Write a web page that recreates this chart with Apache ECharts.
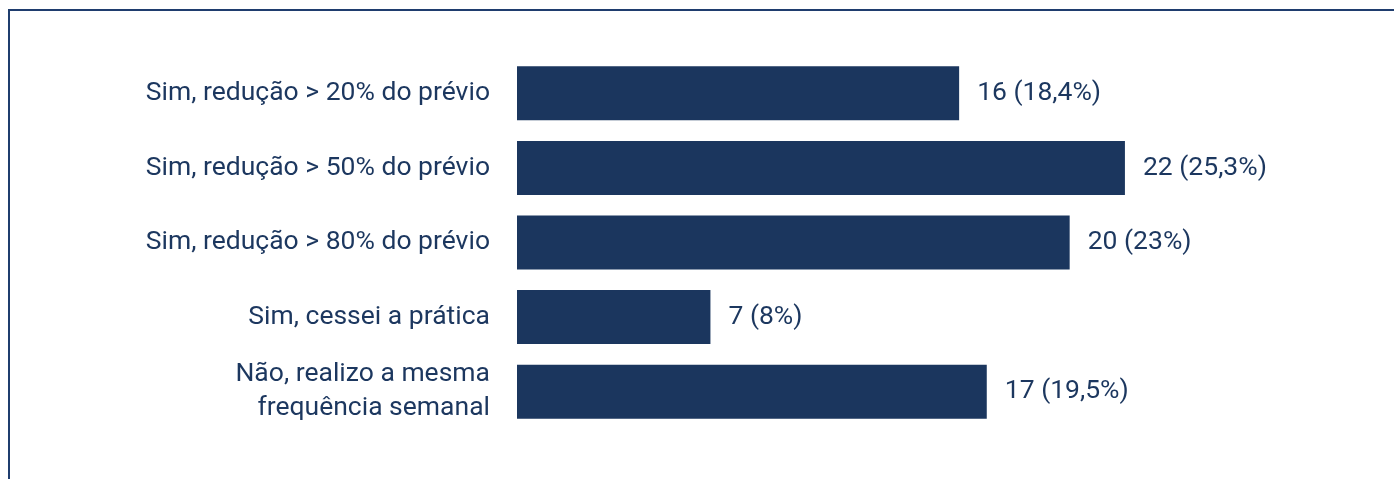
<!DOCTYPE html>
<html>
<head>
<meta charset="utf-8">
<script src="https://cdn.jsdelivr.net/npm/echarts@6/dist/echarts.min.js"></script>
<style>
  html, body { margin: 0; padding: 0; background: #ffffff; }
  #frame {
    position: absolute; left: 0; top: 0; width: 1394px; height: 479px;
  }
  #edge {
    position: absolute; left: 8px; top: 9px; right: 0; bottom: 0;
    border-top: 2px solid #1f3d6e; border-left: 2px solid #1f3d6e;
    pointer-events: none;
  }
  #chart { position: absolute; left: 0; top: 0; width: 1394px; height: 479px; }
</style>
</head>
<body>
<div id="frame">
  <div id="chart"></div>
  <div id="edge"></div>
</div>
<script>
// Respostas: redução da frequência semanal
const categories = [
  'Sim, redução > 20% do prévio',
  'Sim, redução > 50% do prévio',
  'Sim, redução > 80% do prévio',
  'Sim, cessei a prática',
  'Não, realizo a mesma\nfrequência semanal'
];
const counts = [16, 22, 20, 7, 17];
const percents = ['18,4%', '25,3%', '23%', '8%', '19,5%'];

const navy = '#1b365e';
const textColor = '#1c375f';
const font = 'Roboto, "Noto Sans", sans-serif';

const chart = echarts.init(document.getElementById('chart'), null, { renderer: 'canvas' });
chart.setOption({
  backgroundColor: '#ffffff',
  animation: false,
  grid: { left: 517, right: 48, top: 56, bottom: 50, containLabel: false },
  xAxis: {
    type: 'value', min: 0, max: 30,
    show: false
  },
  yAxis: {
    type: 'category',
    inverse: true,
    data: categories,
    axisLine: { show: false },
    axisTick: { show: false },
    axisLabel: {
      margin: 27,
      color: textColor,
      fontFamily: font,
      fontSize: 26.5,
      lineHeight: 34,
      align: 'right'
    }
  },
  series: [{
    type: 'bar',
    data: counts,
    barWidth: 54,
    itemStyle: { color: navy },
    label: {
      show: true,
      position: 'right',
      distance: 18,
      color: textColor,
      fontFamily: font,
      fontSize: 26.5,
      formatter: p => counts[p.dataIndex] + ' (' + percents[p.dataIndex] + ')'
    }
  }]
});
</script>
</body>
</html>
